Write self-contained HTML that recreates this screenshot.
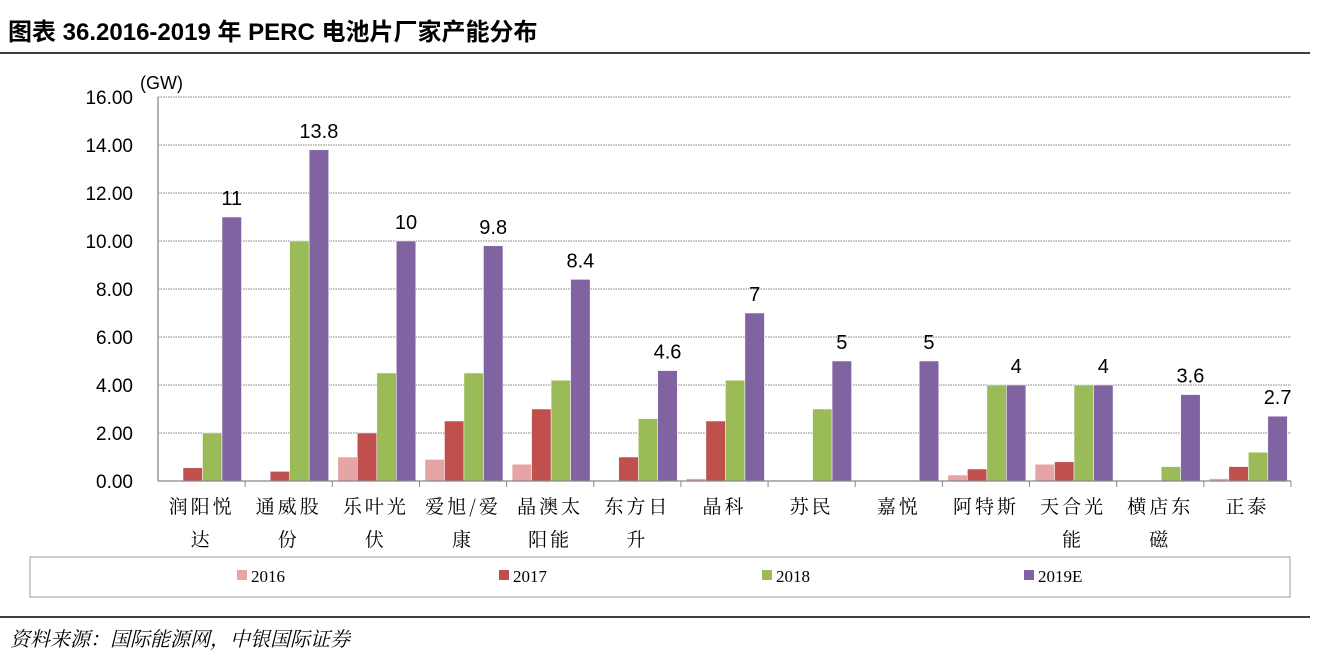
<!DOCTYPE html><html><head><meta charset="utf-8"><style>
body{margin:0;background:#fff;width:1320px;height:664px;overflow:hidden;font-family:"Liberation Sans","Noto Sans CJK SC",sans-serif}
</style></head><body>
<svg width="1320" height="664" xmlns="http://www.w3.org/2000/svg" font-family="Liberation Sans, Noto Sans CJK SC, sans-serif">
<text x="8" y="40" font-size="24" font-weight="bold" fill="#000">图表 36.2016-2019 年 PERC 电池片厂家产能分布</text>
<line x1="0" y1="53" x2="1310" y2="53" stroke="#000" stroke-width="1.5"/>
<g id="g"></g>
<line x1="0" y1="617" x2="1310" y2="617" stroke="#000" stroke-width="1.5"/>
<text x="10" y="646" font-size="20" font-style="italic" fill="#000" font-family="Noto Serif CJK SC, serif">资料来源：国际能源网，中银国际证券</text>
</svg>
<script>
const g=document.getElementById('g');let h='';
const x0=158,x1=1291,y0=481,u=24,cw=(x1-x0)/13;
for(let v=0;v<=16;v+=2){const y=y0-v*u;
 if(v>0)h+=`<line x1="${x0}" y1="${y}" x2="${x1}" y2="${y}" stroke="#555" stroke-width="0.8" stroke-dasharray="1.5,1"/>`;
 h+=`<text x="133" y="${y+7}" font-size="19" text-anchor="end">${v.toFixed(2)}</text>`;}
h+=`<text x="140" y="89" font-size="18">(GW)</text>`;
const d=[["润阳悦","达",0,0.55,2,11],["通威股","份",0,0.4,10,13.8],["乐叶光","伏",1,2,4.5,10],["爱旭/爱","康",0.9,2.5,4.5,9.8],["晶澳太","阳能",0.7,3,4.2,8.4],["东方日","升",0,1,2.6,4.6],["晶科","",0.1,2.5,4.2,7],["苏民","",0,0,3,5],["嘉悦","",0,0,0,5],["阿特斯","",0.25,0.5,4,4],["天合光","能",0.7,0.8,4,4],["横店东","磁",0,0,0.6,3.6],["正泰","",0.1,0.6,1.2,2.7]];
const c=["#E6A5A5","#C0504D","#9BBB59","#8064A2"];
d.forEach((r,i)=>{const s=x0+cw*i;
 for(let k=0;k<4;k++){const v=r[2+k];if(v>0){const bx=s+5.5+k*19.5;h+=`<rect x="${bx}" y="${y0-v*u}" width="19.5" height="${v*u}" fill="${c[k]}" stroke="#fff" stroke-width="0.5"/>`;}}
 const v=r[5];h+=`<text x="${s+5.5+3*19.5+9.75}" y="${y0-v*u-12}" font-size="20" text-anchor="middle">${v}</text>`;
 h+=`<line x1="${s+cw}" y1="${y0}" x2="${s+cw}" y2="${y0+6}" stroke="#888"/>`;
 h+=`<text x="${s+cw/2}" y="513" font-size="19" text-anchor="middle" font-family="Noto Serif CJK SC, serif" letter-spacing="3">${r[0]}</text>`;
 if(r[1])h+=`<text x="${s+cw/2}" y="546" font-size="19" text-anchor="middle" font-family="Noto Serif CJK SC, serif" letter-spacing="3">${r[1]}</text>`;});
h+=`<line x1="${x0}" y1="97" x2="${x0}" y2="${y0}" stroke="#999" stroke-width="1.5"/><line x1="${x0}" y1="${y0}" x2="${x1}" y2="${y0}" stroke="#888" stroke-width="1.2"/>`;
h+=`<rect x="30" y="557" width="1260" height="40" fill="none" stroke="#999"/>`;
[["2016",237],["2017",499],["2018",762],["2019E",1024]].forEach((l,k)=>{h+=`<rect x="${l[1]}" y="570" width="10" height="10" fill="${c[k]}"/><text x="${l[1]+14}" y="582" font-size="17" font-family="Liberation Serif, serif">${l[0]}</text>`;});
g.innerHTML=h;
</script>
</body></html>
